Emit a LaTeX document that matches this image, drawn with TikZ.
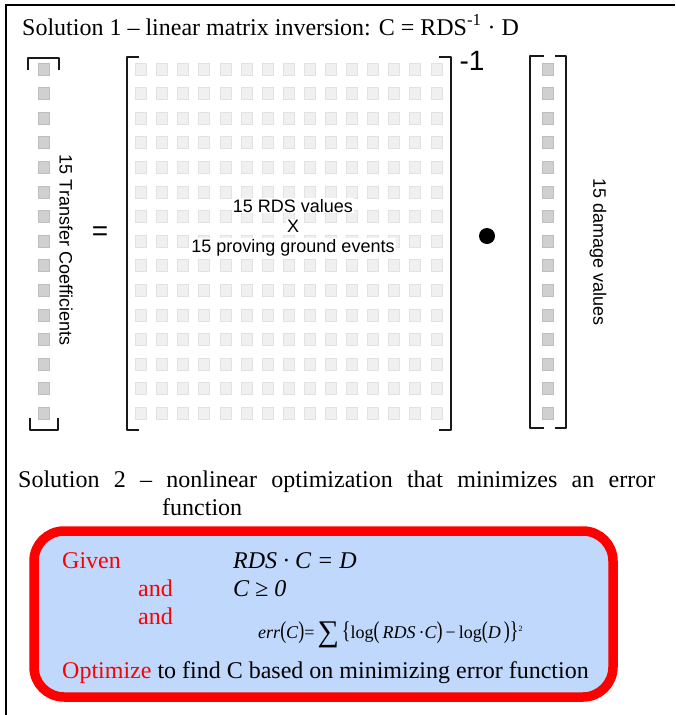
\documentclass[tikz,border=0pt]{standalone}
\usepackage{fontspec}
\setmainfont{Liberation Serif}
\newfontfamily\arialfont{Liberation Sans}
\definecolor{boxblue}{RGB}{191,216,251}
\definecolor{msqfill}{RGB}{240,240,240}
\definecolor{msqdraw}{RGB}{226,226,226}
\definecolor{vsqfill}{RGB}{208,208,208}
\definecolor{vsqdraw}{RGB}{190,190,190}
\newcommand\mybp[1]{\scalebox{1}[1.35]{#1}}
\begin{document}
\begin{tikzpicture}[x=1pt,y=-1pt,
  msq/.style={draw=msqdraw, fill=msqfill, minimum width=11pt, minimum height=12pt, inner sep=0pt, line width=0.7pt},
  vsq/.style={draw=vsqdraw, fill=vsqfill, minimum width=11pt, minimum height=12pt, inner sep=0pt, line width=0.7pt},
  brk/.style={line width=2.4pt, draw=black!90, line join=round},
  tnr/.style={font=\fontsize{24}{28}\selectfont, inner sep=0pt},
  ar/.style={font=\arialfont\fontsize{18}{21}\selectfont, inner sep=0pt},
  redtxt/.style={tnr, text=red}]
\useasboundingbox (0,0) rectangle (675,715);
% frame
\coordinate (fbl) at (6,715);
\coordinate (ftl) at (6,5);
\coordinate (ftr) at (675,5);
\draw[line width=1.8pt] (fbl) -- (ftl) -- (ftr);
% title
\node[tnr, anchor=base west] (title) at (22,35) {Solution 1 -- linear matrix inversion: C = RDS\textsuperscript{-1} · D};
% left vector
\foreach \i in {0,...,14} { \node[vsq] (lv\i) at (43.5,{69+24.6*\i}) {}; }
\draw[brk] (28,70) -- (28,58) -- (59,58) -- (59,70);
\draw[brk] (30,418) -- (30,430) -- (58,430) -- (58,418);
\node[ar, rotate=-90] (ltxt) at (66,250) {15 Transfer Coefficients};
% equals
\node[font=\arialfont\fontsize{28}{30}\selectfont, inner sep=0pt] (eq) at (100,234) {=};
% matrix
\foreach \i in {0,...,14} { \foreach \j in {0,...,14} { \node[msq] (m\i-\j) at ({141+21.1*\j},{69+24.6*\i}) {}; } }
\draw[brk] (139,57) -- (127,57) -- (127,430) -- (139,430);
\draw[brk] (439,57) -- (451,57) -- (451,430) -- (439,430);
\node[font=\arialfont\fontsize{28}{30}\selectfont, inner sep=0pt] (inv) at (472,61) {-1};
\node[ar, fill=white, inner sep=1pt, anchor=base] (t1) at (293,212) {15 RDS values};
\node[ar, fill=white, inner sep=1pt, anchor=base] (t2) at (293,232) {X};
\node[ar, fill=white, inner sep=1pt, anchor=base] (t3) at (293,252) {15 proving ground events};
% dot
\node[circle, fill=black, minimum size=16pt, inner sep=0pt] (dot) at (487,236) {};
% right vector
\foreach \i in {0,...,14} { \node[vsq] (rv\i) at (547.5,{69+24.6*\i}) {}; }
\draw[brk] (544,56) -- (530,56) -- (530,428) -- (544,428);
\draw[brk] (555,56) -- (566,56) -- (566,428) -- (555,428);
\node[ar, rotate=-90] (rtxt) at (598,252) {15 damage values};
% solution 2
\node[tnr, anchor=base west] (sol2) at (18,487) {\hbox to 637pt{Solution\hfill 2\hfill --\hfill nonlinear\hfill optimization\hfill that\hfill minimizes\hfill an\hfill error}};
\node[tnr, anchor=base west] (sol2b) at (162,515) {function};
% red box
\node[draw=red, line width=9.5pt, fill=boxblue, rounded corners=30pt, minimum width=579pt, minimum height=166pt, inner sep=0pt] (box) at (323.5,614) {};
\node[redtxt, anchor=base west] (given) at (62,568) {Given};
\node[tnr, anchor=base west] (e1) at (233,568) {\textit{RDS · C = D}};
\node[redtxt, anchor=base west] (and1) at (138,596) {and};
\node[tnr, anchor=base west] (e2) at (233,596) {\textit{C ≥ 0}};
\node[redtxt, anchor=base west] (and2) at (138,624) {and};
\node[font=\fontsize{18}{20}\selectfont, inner sep=0pt, anchor=base west] (e3) at (258,638) {\textit{err}\mybp{(}\textit{C}\mybp{)}=\,\raisebox{-3pt}{\fontsize{30}{30}\selectfont ∑}\,\mybp{\{}log\mybp{(}\,\textit{RDS}\,·\textit{C}\mybp{)}\,−\,log\mybp{(}\textit{D}\,\mybp{)}\mybp{\}}\textsuperscript{\footnotesize 2}};
\node[tnr, anchor=base west] (opt) at (62,678) {\textcolor{red}{Optimize} to find C based on minimizing error function};
\end{tikzpicture}
\end{document}
